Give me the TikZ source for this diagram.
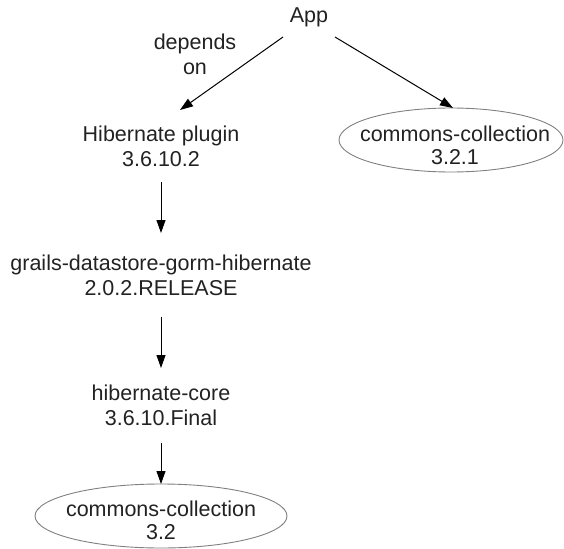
\documentclass[tikz,border=0pt]{standalone}
\usepackage{fontspec}
\setmainfont{Liberation Sans}
\usetikzlibrary{shapes.geometric,arrows.meta,calc}
\definecolor{txtc}{HTML}{222222}
\definecolor{ellc}{HTML}{808080}
\begin{document}
\begin{tikzpicture}[x=1pt,y=1pt,
  txt/.style={inner sep=0pt, outer sep=0pt, align=center, text=txtc,
    font=\fontsize{21.5}{25}\selectfont},
  etxt/.style={inner sep=0pt, outer sep=0pt, align=center, text=txtc,
    font=\fontsize{21.5}{23}\selectfont},
  ell/.style={ellipse, draw=ellc, line width=0.9pt, inner sep=0pt, outer sep=0pt},
  arr/.style={draw=black, line width=1pt, -{Triangle[length=13pt,width=9pt]}}
]
\useasboundingbox (0,0) rectangle (564,-548);

\node[txt, minimum width=52pt, minimum height=40pt] (app) at (309,-17) {App};
\node[txt] (dep) at (195,-54) {depends\\on};
\node[txt, minimum height=72pt] (hib) at (161,-146) {Hibernate plugin\\3.6.10.2};
\node[ell, minimum width=224pt, minimum height=64pt] (cc1) at (451,-140) {};
\node[etxt] (cc1t) at (455,-145) {commons-collection\\3.2.1};
\node[txt, minimum height=84pt] (gr) at (161,-275) {grails-datastore-gorm-hibernate\\2.0.2.RELEASE};
\node[txt, minimum height=75pt] (core) at (161,-405.5) {hibernate-core\\3.6.10.Final};
\node[ell, minimum width=252pt, minimum height=64pt] (cc2) at (161,-516) {};
\node[etxt] (cc2t) at (161,-520) {commons-collection\\3.2};

\draw[arr] (app.south west) -- ([xshift=19pt]hib.north);
\draw[arr] (app.south east) -- ([xshift=2pt]cc1.north);
\draw[arr] (hib.south) -- (gr.north);
\draw[arr] (gr.south) -- (core.north);
\draw[arr] (core.south) -- (cc2.north);
\end{tikzpicture}
\end{document}
